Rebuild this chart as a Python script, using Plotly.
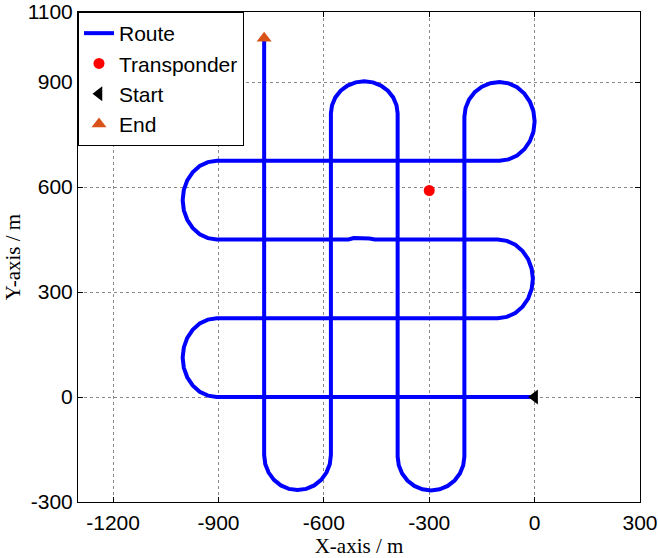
import plotly.graph_objects as go

# Route waypoints (m)
route_x = [0, -905,
           -930.1, -953.5, -973.6, -989.0, -998.7, -1002, -998.7, -989.0, -973.6, -953.5, -930.1, -905,
           -105,
           -79.1, -55, -34.3, -18.4, -8.4, -5, -8.4, -18.4, -34.3, -55, -79.1, -105,
           -455, -470, -490, -500, -515, -530,
           -905,
           -930.1, -953.5, -973.6, -989.0, -998.7, -1002, -998.7, -989.0, -973.6, -953.5, -930.1, -905,
           -100,
           -74.1, -50, -29.3, -13.4, -3.4, 0, -3.4, -13.4, -29.3, -50, -74.1, -100,
           -125.9, -150, -170.7, -186.6, -196.6, -200,
           -200,
           -203.2, -212.7, -227.8, -247.5, -270.4, -295, -319.6, -342.5, -362.2, -377.3, -386.8, -390,
           -390,
           -393.2, -402.7, -417.8, -437.5, -460.4, -485, -509.6, -532.5, -552.2, -567.3, -576.8, -580,
           -580,
           -583.2, -592.7, -607.8, -627.5, -650.4, -675, -699.6, -722.5, -742.2, -757.3, -766.8, -770,
           -770]
route_y = [0, 0,
           3.8, 15.1, 33.0, 56.3, 83.4, 112.5, 141.6, 168.8, 192.0, 209.9, 221.2, 225,
           225,
           228.8, 240.1, 257.9, 281.3, 308.4, 337.5, 366.6, 393.8, 417.1, 434.9, 446.2, 450,
           450, 453, 454, 452, 454, 450,
           450,
           453.8, 465.1, 483.0, 506.3, 533.4, 562.5, 591.6, 618.8, 642.0, 659.9, 671.2, 675,
           675,
           678.8, 690, 707.8, 731, 758, 787, 816.2, 843.5, 866.9, 884.9, 896.1, 900,
           896.6, 886.6, 870.7, 850, 825.9, 800,
           -170,
           -195.1, -218.5, -238.6, -254, -263.7, -267, -263.7, -254, -238.6, -218.5, -195.1, -170,
           810,
           833.8, 856, 875.1, 889.7, 898.9, 902, 898.9, 889.7, 875.1, 856, 833.8, 810,
           -166,
           -191.9, -216, -236.7, -252.6, -262.6, -266, -262.6, -252.6, -236.7, -216, -191.9, -166,
           1025]

transponder_x = [-300]
transponder_y = [590]
start_x = [0]
start_y = [0]
end_x = [-770]
end_y = [1025]

x_ticks = [-1200, -900, -600, -300, 0, 300]
y_ticks = [-300, 0, 300, 600, 900, 1100]

fig = go.Figure()
fig.add_trace(go.Scatter(x=route_x, y=route_y, mode="lines", name="Route",
                         line=dict(color="#0000FF", width=4)))
fig.add_trace(go.Scatter(x=transponder_x, y=transponder_y, mode="markers", name="Transponder",
                         marker=dict(color="#FF0000", size=11, symbol="circle")))
fig.add_trace(go.Scatter(x=start_x, y=start_y, mode="markers", name="Start",
                         marker=dict(color="#000000", size=13, symbol="triangle-left")))
fig.add_trace(go.Scatter(x=end_x, y=end_y, mode="markers", name="End",
                         marker=dict(color="#D95319", size=13, symbol="triangle-up")))

axis_common = dict(showline=True, linecolor="black", linewidth=1, mirror="ticks",
                   ticks="inside", ticklen=5, tickcolor="black",
                   showgrid=True, gridcolor="#8a8a8a", griddash="dot", gridwidth=1,
                   zeroline=False, automargin=False, ticklabeloverflow="allow",
                   tickfont=dict(family="Liberation Sans, Arial", size=21, color="black"))

fig.update_xaxes(range=[-1300, 300], tickvals=x_ticks, ticktext=[str(v) for v in x_ticks],
                 ticklabelstandoff=2,
                 title=dict(text="X-axis / m", standoff=3,
                            font=dict(family="Liberation Serif, Times New Roman", size=21, color="black")),
                 **axis_common)
fig.update_yaxes(range=[-300, 1100], tickvals=y_ticks, ticktext=[str(v) for v in y_ticks],
                 title=dict(text="Y-axis / m", standoff=1,
                            font=dict(family="Liberation Serif, Times New Roman", size=21, color="black")),
                 **axis_common)

fig.update_layout(
    width=658, height=558,
    margin=dict(l=78, r=18, t=12, b=56),
    plot_bgcolor="white", paper_bgcolor="white",
    legend=dict(x=0, y=1, xanchor="left", yanchor="top",
                bgcolor="white", bordercolor="black", borderwidth=1,
                font=dict(family="Liberation Sans, Arial", size=21, color="black"),
                tracegroupgap=0),
    showlegend=True,
)

fig.write_html("out.html")
